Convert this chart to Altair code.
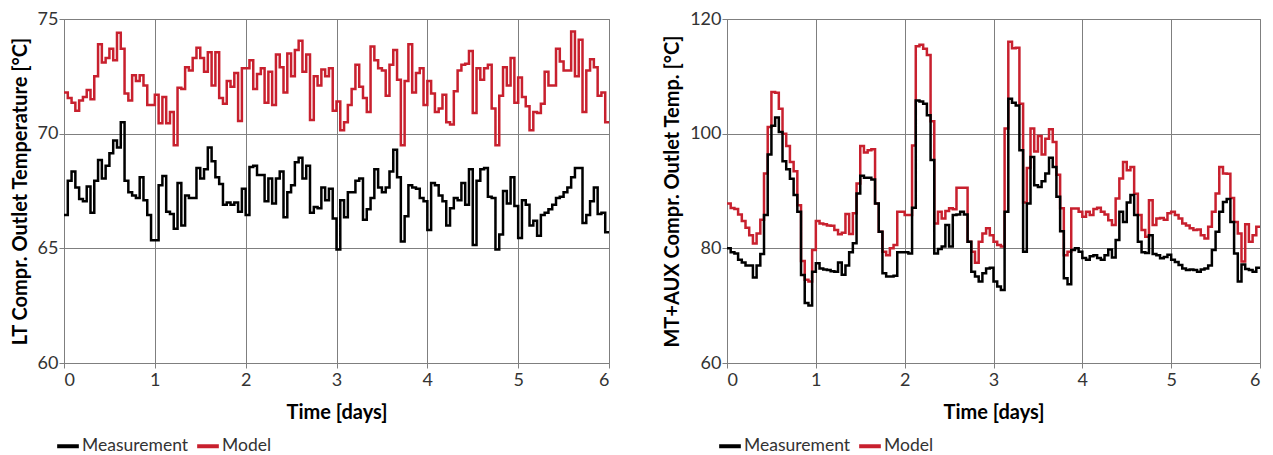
import altair as alt
import pandas as pd

# ---- data (hourly values, 6 days) ----
days = [0, 1, 2, 3, 4, 5, 6]

lt_measurement = [
    66.45, 67.95, 68.35, 67.65, 67.15, 67.05, 67.7, 66.55, 67.95, 68.85, 68.05, 68.6, 69.15, 69.7, 69.4, 70.5, 67.95, 67.45, 67.3, 67.2, 68.1, 67.1, 66.45, 65.35,
    65.35, 67.75, 68.15, 66.6, 66.5, 65.85, 67.85, 66.0, 67.3, 67.2, 67.2, 68.5, 68.05, 68.45, 69.4, 68.8, 68.1, 67.8, 66.9, 67.0, 66.9, 67.0, 66.6, 67.6,
    66.45, 68.55, 68.6, 68.2, 68.2, 67.05, 68.05, 66.95, 68.05, 68.35, 66.35, 67.45, 67.75, 68.75, 68.95, 68.05, 68.6, 66.55, 66.8, 66.75, 67.65, 67.1, 67.6, 66.3,
    64.95, 67.1, 66.35, 67.45, 67.45, 67.95, 68.05, 66.25, 66.7, 67.2, 68.45, 67.65, 67.45, 67.65, 68.35, 69.3, 68.1, 65.3, 66.4, 67.75, 67.65, 67.6, 67.2, 67.05,
    65.8, 67.85, 67.75, 67.3, 67.05, 66.0, 66.75, 67.2, 67.1, 67.85, 66.9, 68.45, 65.15, 67.95, 68.45, 68.5, 67.25, 67.2, 64.95, 65.6, 67.5, 66.95, 68.1, 66.85,
    65.45, 67.1, 66.9, 66.0, 66.2, 65.55, 66.45, 66.55, 66.7, 66.9, 67.2, 67.25, 67.45, 67.65, 68.1, 68.5, 68.5, 66.1, 66.45, 67.05, 67.65, 66.5, 66.55, 65.7,
]
lt_model = [
    71.8, 71.55, 71.35, 71.0, 71.45, 71.6, 71.9, 71.5, 72.5, 73.9, 73.1, 73.3, 73.7, 73.2, 74.4, 73.7, 71.75, 71.45, 72.55, 72.3, 72.55, 72.1, 71.25, 71.25,
    71.7, 70.45, 71.6, 70.45, 70.95, 69.5, 72.0, 71.95, 72.9, 72.75, 73.3, 73.75, 73.3, 72.7, 73.55, 72.1, 73.55, 71.55, 71.3, 72.3, 72.05, 72.65, 70.55, 72.85,
    72.85, 73.2, 71.95, 72.6, 72.85, 71.35, 72.7, 71.25, 73.45, 72.9, 71.8, 73.5, 72.5, 73.65, 74.05, 72.7, 73.45, 70.6, 72.5, 72.1, 72.8, 72.5, 72.85, 71.0,
    71.4, 70.15, 70.5, 71.25, 71.95, 73.0, 72.05, 71.55, 70.95, 73.8, 73.2, 72.85, 72.75, 71.65, 73.0, 73.65, 72.35, 69.5, 72.3, 73.9, 71.8, 72.65, 72.85, 71.25,
    72.3, 71.75, 70.95, 71.1, 71.7, 70.5, 70.4, 71.85, 72.75, 73.0, 73.05, 73.6, 70.9, 72.85, 72.35, 72.85, 73.0, 71.1, 69.5, 71.65, 72.9, 72.1, 73.3, 71.35,
    72.45, 71.6, 71.2, 70.15, 70.95, 70.9, 71.3, 72.7, 72.1, 72.1, 73.7, 73.15, 72.75, 72.75, 74.45, 72.5, 74.1, 70.95, 72.75, 73.25, 72.9, 71.65, 71.8, 70.5,
]
mt_measurement = [
    80.0, 79.3, 79.1, 78.0, 77.55, 77.0, 77.0, 74.9, 77.0, 79.0, 85.8, 96.35, 101.4, 102.8, 100.3, 95.2, 93.8, 92.15, 89.3, 86.4, 75.35, 70.45, 70.05, 75.9,
    77.4, 76.5, 76.3, 76.2, 76.0, 75.9, 77.55, 75.4, 77.0, 79.3, 80.9, 89.55, 92.65, 92.3, 92.3, 92.0, 87.8, 82.9, 75.65, 75.1, 75.1, 75.2, 79.3, 79.3,
    79.3, 79.1, 87.1, 105.8, 105.6, 105.2, 103.2, 95.4, 79.1, 79.9, 80.3, 84.05, 80.3, 85.8, 85.9, 86.4, 85.9, 81.15, 75.9, 75.1, 74.2, 75.65, 76.5, 76.6,
    74.2, 73.35, 72.75, 86.4, 106.1, 105.4, 104.9, 97.1, 79.4, 87.8, 95.95, 91.0, 90.7, 91.7, 93.05, 95.8, 94.2, 89.0, 83.0, 74.8, 73.75, 79.7, 80.0, 79.4,
    78.3, 78.0, 78.6, 78.8, 78.3, 78.0, 78.8, 79.8, 78.4, 81.45, 86.4, 84.6, 88.0, 89.3, 85.8, 81.15, 79.3, 79.2, 82.3, 79.0, 78.8, 78.25, 78.5, 78.9,
    78.0, 77.6, 77.1, 76.5, 76.2, 76.3, 76.2, 75.9, 76.3, 76.5, 77.0, 79.7, 82.9, 86.4, 88.1, 88.6, 84.6, 79.1, 74.2, 77.2, 76.4, 76.2, 75.9, 76.6,
]
mt_model = [
    87.8, 87.05, 86.85, 85.9, 84.75, 83.6, 82.3, 80.85, 82.6, 85.0, 93.05, 101.15, 107.25, 107.15, 104.35, 100.0, 97.85, 95.05, 93.45, 87.5, 77.8, 74.5, 74.2, 79.7,
    84.75, 84.35, 84.2, 84.0, 83.95, 83.2, 82.45, 82.7, 86.0, 82.5, 86.1, 91.3, 97.85, 96.7, 97.1, 97.3, 87.8, 82.9, 79.4, 78.8, 80.0, 80.6, 86.4, 86.4,
    85.8, 85.8, 97.95, 115.25, 115.5, 114.8, 113.7, 102.15, 84.35, 86.4, 85.2, 86.5, 87.0, 86.8, 90.55, 90.55, 90.55, 81.15, 79.4, 77.5, 81.15, 82.6, 83.5, 82.3,
    81.15, 80.6, 80.3, 100.9, 116.05, 114.9, 115.0, 105.2, 88.0, 94.0, 100.9, 96.9, 99.6, 96.35, 99.1, 100.75, 98.55, 92.85, 87.0, 78.8, 79.4, 86.95, 86.95, 86.4,
    85.5, 86.4, 85.8, 86.85, 87.1, 86.4, 85.9, 84.9, 84.05, 88.7, 92.2, 95.05, 93.6, 94.2, 89.5, 85.8, 83.2, 82.0, 88.4, 84.05, 85.2, 85.3, 85.0, 86.1,
    86.4, 85.8, 85.2, 84.35, 84.0, 83.5, 83.2, 83.3, 82.3, 81.7, 83.75, 86.4, 89.55, 94.2, 93.05, 93.0, 88.8, 84.6, 82.6, 77.7, 84.2, 81.15, 82.3, 83.75,
]

series_names = ["Measurement", "Model"]
series_colors = ["#000000", "#c8202e"]


def frame(values, name):
    n = len(values)
    t = [i / 24 for i in range(n + 1)]
    v = list(values) + [values[-1]]
    return pd.DataFrame({"t": t, "v": v, "s": name})


GRID = "#7f7f7f"


def panel(meas, model, ydom, yticks, ytitle, legx):
    df_meas = frame(meas, "Measurement")
    df_model = frame(model, "Model")
    color = alt.Color(
        "s:N",
        scale=alt.Scale(domain=series_names, range=series_colors),
        legend=alt.Legend(
            orient="none", legendX=legx, legendY=414, direction="horizontal",
            title=None, symbolType="stroke", symbolStrokeWidth=4, symbolSize=470,
            labelFontSize=17.5, labelFont="Lato", labelColor="#333333",
            columnPadding=0, labelOffset=1,
        ),
    )
    x = alt.X("t:Q", scale=alt.Scale(domain=[0, 6], nice=False),
              axis=alt.Axis(values=days, format="d", title="Time [days]",
                            labelPadding=3, titlePadding=13))
    y = alt.Y("v:Q", scale=alt.Scale(domain=ydom, nice=False, zero=False),
              axis=alt.Axis(values=yticks, title=ytitle, labelPadding=1, titlePadding=7))
    red = alt.Chart(df_model).mark_line(interpolate="step-after", strokeWidth=2.5).encode(x=x, y=y, color=color)
    blk = alt.Chart(df_meas).mark_line(interpolate="step-after", strokeWidth=2.5).encode(x=x, y=y, color=color)
    return alt.layer(red, blk)


left = panel(lt_measurement, lt_model, [60, 75], [60, 65, 70, 75],
             "LT Compr. Outlet Temperature [°C]", -9).properties(width=545, height=344)
right = panel(mt_measurement, mt_model, [60, 120], [60, 80, 100, 120],
              "MT+AUX Compr. Outlet Temp. [°C]", -10).properties(width=533, height=344)

chart = alt.hconcat(left, right, spacing=118, bounds="flush").resolve_scale(
    color="independent", x="independent", y="independent"
).properties(
    padding={"left": 9, "top": 9, "right": 5, "bottom": 0},
    background="white",
).configure_view(
    stroke=GRID, strokeWidth=1
).configure_axis(
    grid=True, gridColor=GRID, gridWidth=1, gridOpacity=1,
    domainColor=GRID, tickColor=GRID, tickSize=5,
    labelFont="Lato", labelFontSize=18, labelColor="#333333",
    titleFont="Lato", titleFontSize=20, titleFontWeight="bold", titleColor="#000000",
)

chart.save("out.html", embed_options={"renderer": "svg", "actions": False})
